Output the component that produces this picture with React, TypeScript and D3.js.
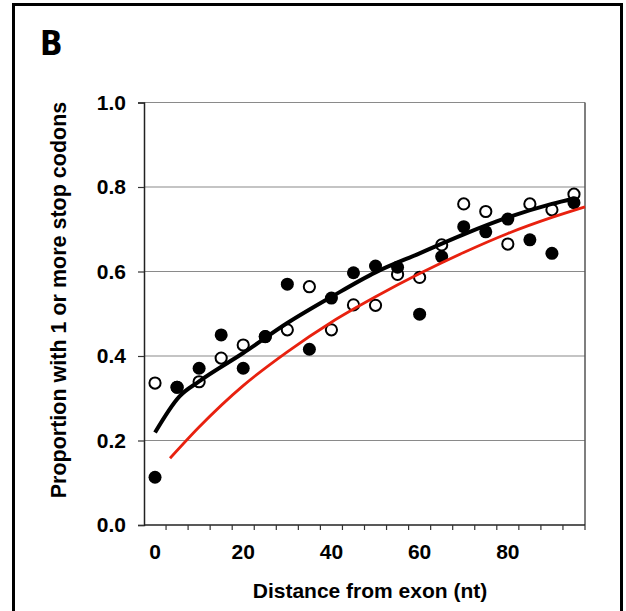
import { useEffect, useRef } from 'react';
import * as d3 from 'd3';

// distance from exon (nt), one band per 5 nt
const distances = [0, 5, 10, 15, 20, 25, 30, 35, 40, 45, 50, 55, 60, 65, 70, 75, 80, 85, 90, 95];
const filledValues = [0.113, 0.326, 0.371, 0.45, 0.371, 0.446, 0.57, 0.416, 0.537, 0.597, 0.613, 0.61, 0.499, 0.635, 0.706, 0.694, 0.724, 0.675, 0.643, 0.763];
const openValues = [0.336, 0.326, 0.339, 0.395, 0.426, 0.446, 0.462, 0.564, 0.462, 0.521, 0.52, 0.593, 0.586, 0.663, 0.76, 0.742, 0.665, 0.76, 0.746, 0.783];

// fitted curve (black) and expected curve (red)
const fitX = [0, 5.5, 10, 20, 30, 40, 50, 60, 70, 80, 90, 95];
const fitY = [0.219, 0.304, 0.34, 0.407, 0.478, 0.54, 0.598, 0.643, 0.688, 0.728, 0.76, 0.773];
const expX = [3.4, 10, 20, 30, 40, 50, 60, 70, 80, 90, 97.5];
const expY = [0.158, 0.232, 0.33, 0.41, 0.48, 0.54, 0.595, 0.645, 0.69, 0.728, 0.753];

const yTicks = [0, 0.2, 0.4, 0.6, 0.8, 1.0];
const xTickLabels = [0, 20, 40, 60, 80];

const W = 626;
const H = 611;
const FONT = '"Liberation Sans", Arial, sans-serif';

const App = () => {
  const svgRef = useRef(null);

  useEffect(() => {
    const svg = d3.select(svgRef.current);
    svg.selectAll('*').remove();

    const left = 144, right = 585, top = 102.5, bottom = 525;

    const x = d3.scaleBand().domain(distances.map(String)).range([left, right]).padding(0);
    const bw = x.bandwidth();
    const cx = (d) => x(String(d)) + bw / 2;
    const xLin = d3.scaleLinear().domain([0, 95]).range([cx(0), cx(95)]);
    const y = d3.scaleLinear().domain([0, 1]).range([bottom, top]);

    // outer frame
    svg.append('path')
      .attr('d', `M13.5,${H} V4.5 H621.5 V${H}`)
      .attr('fill', 'none')
      .attr('stroke', '#000')
      .attr('stroke-width', 3);

    svg.append('text')
      .attr('x', 40)
      .attr('y', 55)
      .attr('font-family', '"Liberation Sans Narrow", "DejaVu Sans Condensed", sans-serif')
      .attr('font-weight', 'bold')
      .attr('font-size', 33)
      .text('B');

    // gridlines
    svg.append('g').selectAll('line')
      .data(yTicks.filter(t => t > 0))
      .enter()
      .append('line')
      .attr('x1', left)
      .attr('x2', right)
      .attr('y1', d => y(d))
      .attr('y2', d => y(d))
      .attr('stroke', '#8a8a8a')
      .attr('stroke-width', 1.2);

    // right border of plot
    svg.append('line')
      .attr('x1', right).attr('x2', right)
      .attr('y1', top).attr('y2', bottom)
      .attr('stroke', '#555')
      .attr('stroke-width', 1.5);

    // y axis
    const yAxis = d3.axisLeft(y).tickValues(yTicks).tickFormat(d3.format('.1f')).tickSize(6).tickPadding(12);
    const gy = svg.append('g').attr('transform', `translate(${left},0)`).call(yAxis);
    gy.select('.domain').attr('stroke', '#222').attr('stroke-width', 1.5);
    gy.selectAll('.tick line').attr('stroke', '#333').attr('stroke-width', 1.2);
    gy.selectAll('.tick text')
      .attr('font-family', FONT)
      .attr('font-weight', 'bold')
      .attr('font-size', 21)
      .attr('fill', '#000');

    // x axis: ticks between bands
    const gx = svg.append('g').attr('transform', `translate(0,${bottom})`);
    gx.append('line')
      .attr('x1', left).attr('x2', right)
      .attr('stroke', '#222').attr('stroke-width', 1.5);
    const edges = distances.map(d => x(String(d))).concat([right]);
    gx.selectAll('.xt')
      .data(edges.slice(1))
      .enter()
      .append('line')
      .attr('x1', d => d).attr('x2', d => d)
      .attr('y1', 0).attr('y2', 5)
      .attr('stroke', '#333').attr('stroke-width', 1.2);
    gx.selectAll('.xl')
      .data(xTickLabels)
      .enter()
      .append('text')
      .attr('x', d => cx(d))
      .attr('y', 34)
      .attr('text-anchor', 'middle')
      .attr('font-family', FONT)
      .attr('font-weight', 'bold')
      .attr('font-size', 21)
      .text(d => d);

    svg.append('text')
      .attr('x', 370)
      .attr('y', 598)
      .attr('text-anchor', 'middle')
      .attr('font-family', FONT)
      .attr('font-weight', 'bold')
      .attr('font-size', 21)
      .text('Distance from exon (nt)');

    svg.append('text')
      .attr('transform', 'translate(66,300) rotate(-90)')
      .attr('text-anchor', 'middle')
      .attr('font-family', FONT)
      .attr('font-weight', 'bold')
      .attr('font-size', 21.5)
      .text('Proportion with 1 or more stop codons');

    // open circles
    svg.append('g').selectAll('circle')
      .data(distances.map((d, i) => ({ d, v: openValues[i] })))
      .enter()
      .append('circle')
      .attr('cx', p => cx(p.d))
      .attr('cy', p => y(p.v))
      .attr('r', 5.6)
      .attr('fill', '#fff')
      .attr('stroke', '#000')
      .attr('stroke-width', 2);

    // filled circles
    svg.append('g').selectAll('circle')
      .data(distances.map((d, i) => ({ d, v: filledValues[i] })))
      .enter()
      .append('circle')
      .attr('cx', p => cx(p.d))
      .attr('cy', p => y(p.v))
      .attr('r', 6.5)
      .attr('fill', '#000');

    const line = d3.line().x(p => xLin(p[0])).y(p => y(p[1])).curve(d3.curveMonotoneX);

    svg.append('path')
      .attr('d', line(expX.map((v, i) => [v, expY[i]])))
      .attr('fill', 'none')
      .attr('stroke', '#e8210f')
      .attr('stroke-width', 2.8);

    svg.append('path')
      .attr('d', line(fitX.map((v, i) => [v, fitY[i]])))
      .attr('fill', 'none')
      .attr('stroke', '#000')
      .attr('stroke-width', 4);
  }, []);

  return (
    <svg
      ref={svgRef}
      width={W}
      height={H}
      style={{ position: 'absolute', left: 0, top: 0, background: '#fff' }}
    />
  );
};

export default App;
